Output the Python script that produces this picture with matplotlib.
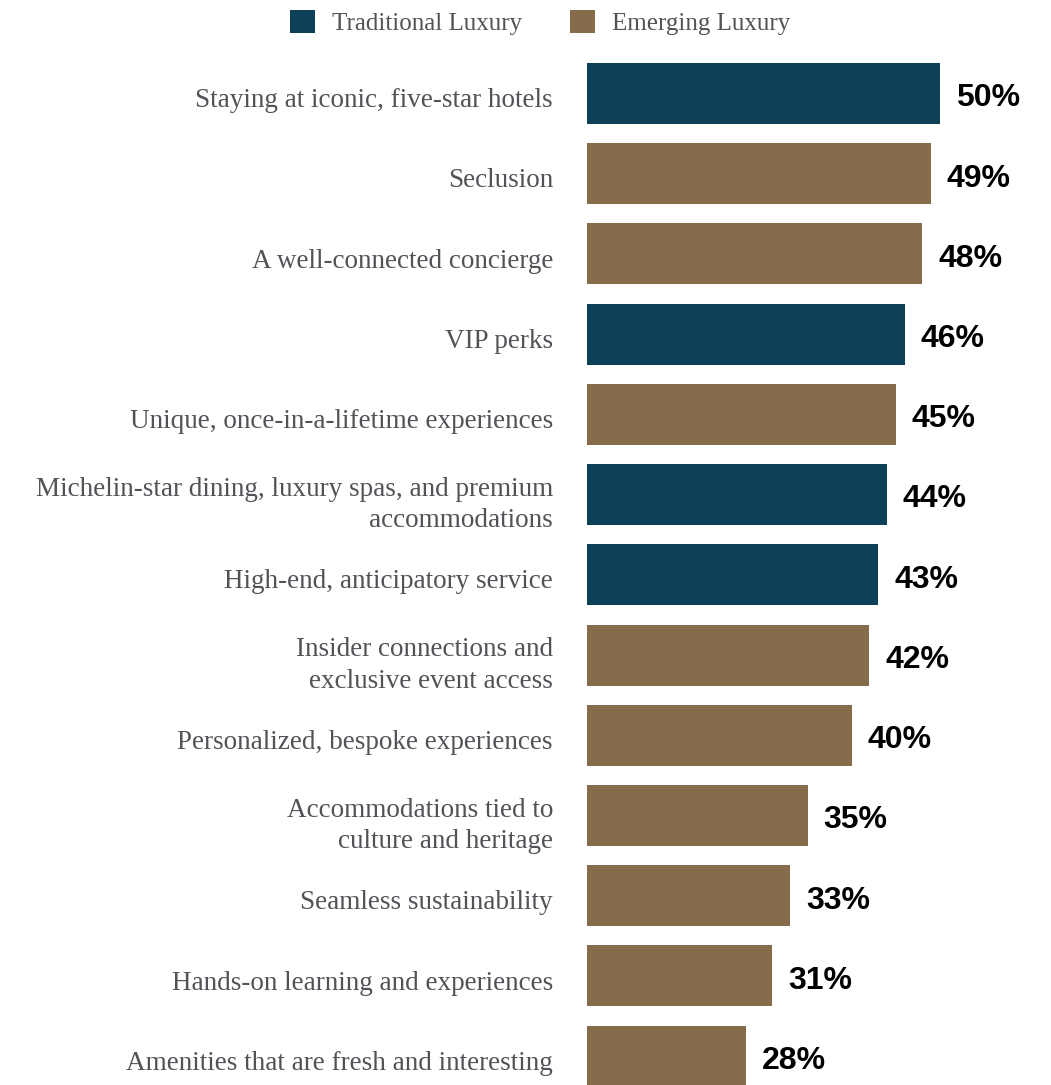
import numpy as np
import matplotlib.pyplot as plt
from matplotlib.patches import Patch
from matplotlib.transforms import ScaledTranslation


# =========================
# DATA
# =========================
CATEGORIES = [
    "Staying at iconic, five-star hotels",
    "Seclusion",
    "A well-connected concierge",
    "VIP perks",
    "Unique, once-in-a-lifetime experiences",
    "Michelin-star dining, luxury spas, and premium\naccommodations",
    "High-end, anticipatory service",
    "Insider connections and\nexclusive event access",
    "Personalized, bespoke experiences",
    "Accommodations tied to\nculture and heritage",
    "Seamless sustainability",
    "Hands-on learning and experiences",
    "Amenities that are fresh and interesting",
]
VALUES = [50, 49, 48, 46, 45, 44, 43, 42, 40, 35, 33, 31, 28]
GROUPS = ["T", "E", "E", "T", "E", "T", "T", "E", "E", "E", "E", "E", "E"]

GROUP_NAMES = {"T": "Traditional Luxury", "E": "Emerging Luxury"}
GROUP_COLORS = {"T": "#0e4158", "E": "#876c4b"}

TEXT_GREY = "#525358"
SERIF = ["Liberation Serif", "DejaVu Serif"]
SANS = ["Liberation Sans", "DejaVu Sans"]


# =========================
# FIGURE
# =========================
W, H = 1051, 1085
fig = plt.figure(figsize=(W / 100, H / 100), dpi=100)

# axes span from the bar baseline to the right edge
left_px, right_px = 587, 1045
top_px = 53.4
ax = fig.add_axes([left_px / W, 0, (right_px - left_px) / W, 1 - top_px / H])

x0 = 10
px_per_unit = 8.82
ax.set_xlim(x0, x0 + (right_px - left_px) / px_per_unit)
ax.set_ylim(12.36, -0.5)

y = np.arange(len(CATEGORIES))
colors = [GROUP_COLORS[g] for g in GROUPS]
ax.barh(y, np.array(VALUES) - x0, left=x0, height=0.76, color=colors)

for yi, v in zip(y, VALUES):
    ax.annotate(f"{v}%", xy=(v, yi), xytext=(11.5, -3.5), textcoords="offset points",
                ha="left", va="center", fontsize=23, fontweight="bold",
                family=SANS, color="black")

ax.set_yticks(y)
ax.set_yticklabels(CATEGORIES, family=SERIF, fontsize=19.5, color=TEXT_GREY,
                   linespacing=1.35)
ax.tick_params(axis="y", length=0, pad=24.5)
# nudge category labels down a little
shift = ScaledTranslation(0, -3 / 72, fig.dpi_scale_trans)
for lbl in ax.get_yticklabels():
    lbl.set_transform(lbl.get_transform() + shift)
ax.set_xticks([])
for s in ax.spines.values():
    s.set_visible(False)

# legend
handles = [Patch(facecolor=GROUP_COLORS[k], label=GROUP_NAMES[k]) for k in ["T", "E"]]
fig.legend(handles=handles, loc="center", bbox_to_anchor=(540 / W, 1 - 22.5 / H),
           ncol=2, frameon=False, handlelength=1.0, handleheight=1.0,
           columnspacing=1.9, handletextpad=0.7,
           prop={"family": SERIF, "size": 18}, labelcolor=TEXT_GREY)

fig.savefig("out.png", dpi=100)
